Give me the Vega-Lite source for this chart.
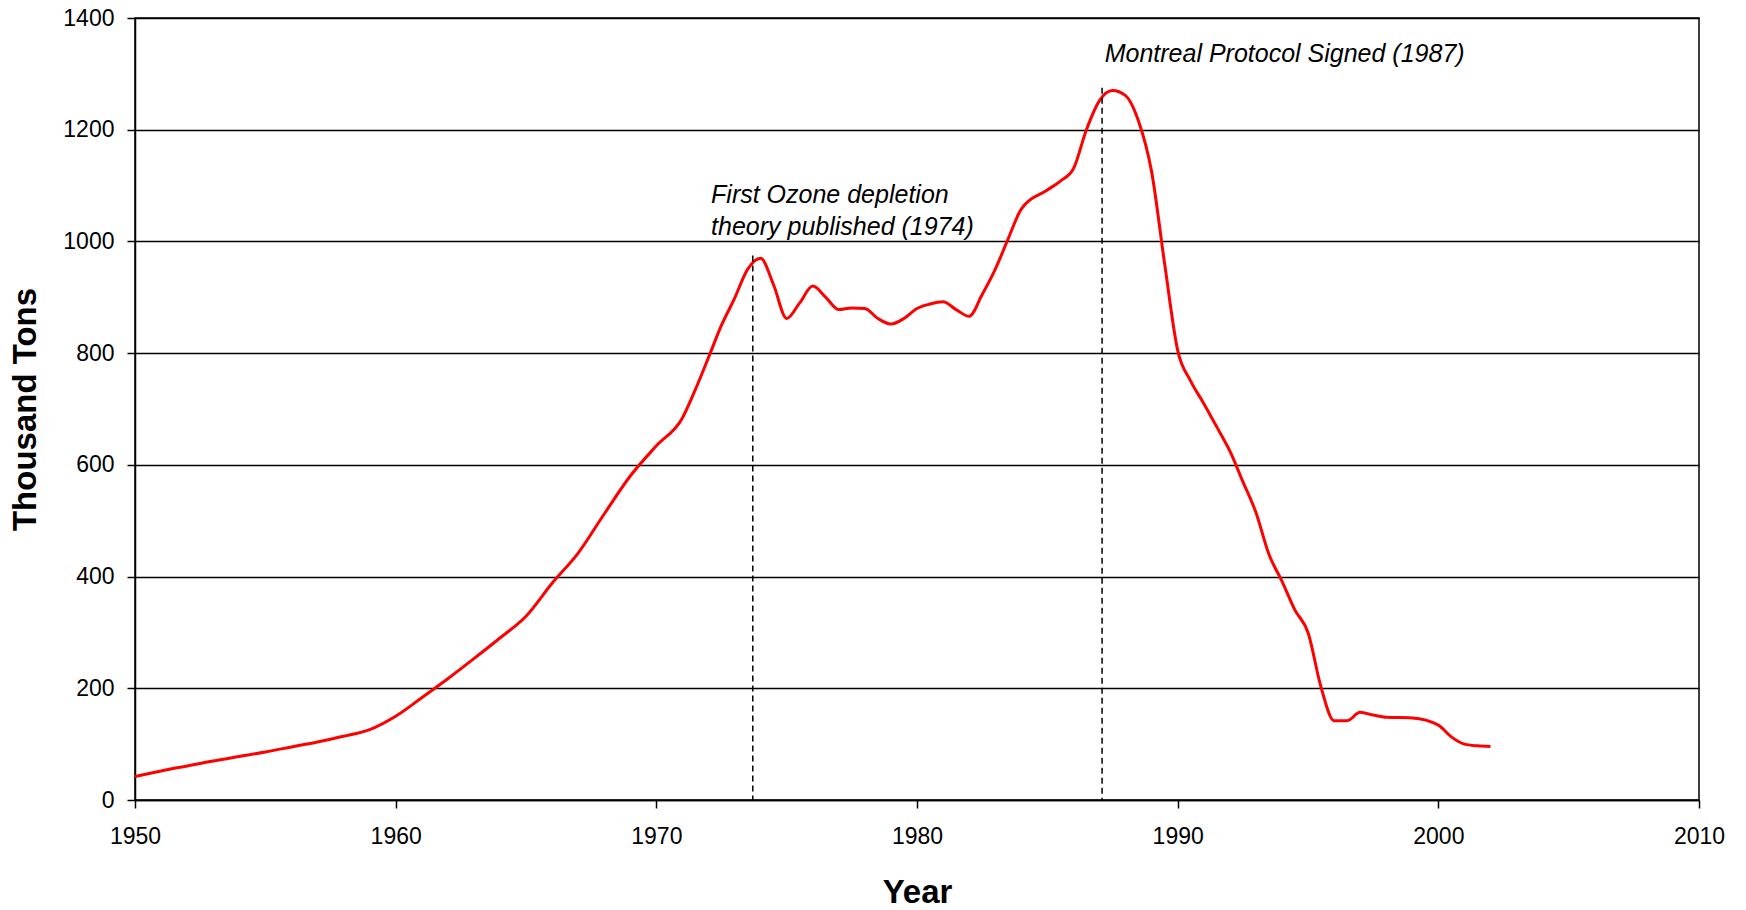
{
  "$schema": "https://vega.github.io/schema/vega-lite/v6.json",
  "width": 1564,
  "height": 782,
  "autosize": {"type": "none"},
  "padding": {"left": 135, "top": 18, "right": 47, "bottom": 110},
  "background": "white",
  "config": {
    "view": {"stroke": "black", "strokeWidth": 1.5},
    "font": "Liberation Sans",
    "axis": {
      "domainColor": "black", "domainWidth": 1.5,
      "tickColor": "black", "tickWidth": 1.5, "tickSize": 8,
      "labelFont": "Liberation Sans", "labelFontSize": 23, "labelColor": "black", "labelFlush": false,
      "titleFont": "Liberation Sans", "titleFontSize": 33, "titleFontWeight": "bold", "titleColor": "black"
    }
  },
  "datasets": {
    "cfc": [
      {"year": 1950, "tons": 42}, {"year": 1951, "tons": 52}, {"year": 1952, "tons": 61},
      {"year": 1953, "tons": 70}, {"year": 1954, "tons": 78}, {"year": 1955, "tons": 86},
      {"year": 1956, "tons": 95}, {"year": 1957, "tons": 104}, {"year": 1958, "tons": 114},
      {"year": 1959, "tons": 126}, {"year": 1960, "tons": 150}, {"year": 1961, "tons": 183},
      {"year": 1962, "tons": 217}, {"year": 1963, "tons": 253}, {"year": 1964, "tons": 290},
      {"year": 1965, "tons": 329}, {"year": 1966, "tons": 388}, {"year": 1967, "tons": 442},
      {"year": 1968, "tons": 512}, {"year": 1969, "tons": 580}, {"year": 1970, "tons": 634},
      {"year": 1971, "tons": 684}, {"year": 1971.5, "tons": 735}, {"year": 1972, "tons": 792},
      {"year": 1972.5, "tons": 850}, {"year": 1973, "tons": 898}, {"year": 1973.5, "tons": 950},
      {"year": 1974, "tons": 970}, {"year": 1974.5, "tons": 922}, {"year": 1975, "tons": 862},
      {"year": 1975.5, "tons": 890}, {"year": 1976, "tons": 920}, {"year": 1976.5, "tons": 900},
      {"year": 1977, "tons": 878}, {"year": 1977.5, "tons": 881}, {"year": 1978, "tons": 880},
      {"year": 1978.5, "tons": 862}, {"year": 1979, "tons": 852}, {"year": 1979.5, "tons": 862},
      {"year": 1980, "tons": 880}, {"year": 1980.5, "tons": 888}, {"year": 1981, "tons": 892},
      {"year": 1981.5, "tons": 878}, {"year": 1982, "tons": 866}, {"year": 1982.5, "tons": 905},
      {"year": 1983, "tons": 950}, {"year": 1983.5, "tons": 1005}, {"year": 1984, "tons": 1058},
      {"year": 1985, "tons": 1092}, {"year": 1985.5, "tons": 1108}, {"year": 1986, "tons": 1130},
      {"year": 1986.5, "tons": 1200}, {"year": 1987, "tons": 1252}, {"year": 1987.5, "tons": 1270},
      {"year": 1988, "tons": 1261}, {"year": 1988.5, "tons": 1215}, {"year": 1989, "tons": 1125},
      {"year": 1989.5, "tons": 960}, {"year": 1990, "tons": 805}, {"year": 1990.5, "tons": 750},
      {"year": 1991, "tons": 710}, {"year": 1991.5, "tons": 668}, {"year": 1992, "tons": 625},
      {"year": 1992.5, "tons": 570}, {"year": 1993, "tons": 515}, {"year": 1993.5, "tons": 440},
      {"year": 1994, "tons": 392}, {"year": 1994.5, "tons": 340}, {"year": 1995, "tons": 300},
      {"year": 1995.5, "tons": 202}, {"year": 1996, "tons": 142}, {"year": 1996.5, "tons": 142},
      {"year": 1997, "tons": 157}, {"year": 1997.5, "tons": 152}, {"year": 1998, "tons": 148},
      {"year": 1999, "tons": 147}, {"year": 2000, "tons": 134}, {"year": 2000.5, "tons": 113},
      {"year": 2001, "tons": 100}, {"year": 2001.5, "tons": 97}, {"year": 2002, "tons": 96}
    ],
    "events": [
      {"year": 1973.7, "top": 975, "base": 0},
      {"year": 1987.1, "top": 1275, "base": 0}
    ],
    "notes": [
      {"year": 1972.1, "tons": 1083, "label": "First Ozone depletion"},
      {"year": 1972.1, "tons": 1025, "label": "theory published (1974)"},
      {"year": 1987.2, "tons": 1336, "label": "Montreal Protocol Signed (1987)"}
    ]
  },
  "layer": [
    {
      "data": {"name": "cfc"},
      "mark": {"type": "line", "color": "#ff0000", "strokeWidth": 3, "interpolate": "monotone"},
      "encoding": {
        "x": {"field": "year", "type": "quantitative", "scale": {"domain": [1950, 2010]},
          "axis": {"values": [1950, 1960, 1970, 1980, 1990, 2000, 2010], "format": "d", "grid": false,
            "title": "Year", "labelPadding": 17, "titleY": 92, "titleBaseline": "middle"}},
        "y": {"field": "tons", "type": "quantitative", "scale": {"domain": [0, 1400]},
          "axis": {"values": [0, 200, 400, 600, 800, 1000, 1200, 1400], "format": "d", "grid": true, "gridColor": "black", "gridWidth": 1.5, "gridOpacity": 1,
            "title": "Thousand Tons", "labelPadding": 13, "titleX": -110, "titleBaseline": "middle"}}
      }
    },
    {
      "data": {"name": "events"},
      "mark": {"type": "rule", "color": "black", "strokeWidth": 1.5, "strokeDash": [6, 4]},
      "encoding": {
        "x": {"field": "year", "type": "quantitative"},
        "y": {"field": "top", "type": "quantitative"},
        "y2": {"field": "base"}
      }
    },
    {
      "data": {"name": "notes"},
      "mark": {"type": "text", "align": "left", "baseline": "middle", "font": "Liberation Sans", "fontStyle": "italic", "fontSize": 25, "color": "black"},
      "encoding": {
        "x": {"field": "year", "type": "quantitative"},
        "y": {"field": "tons", "type": "quantitative"},
        "text": {"field": "label"}
      }
    }
  ]
}
